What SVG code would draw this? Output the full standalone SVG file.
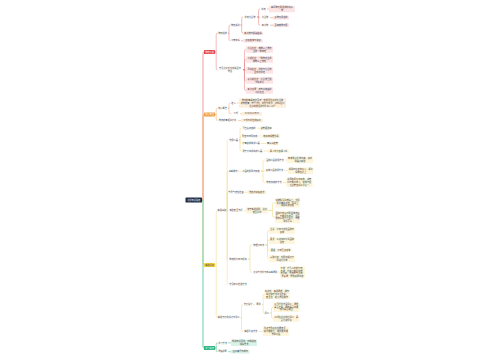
<svg xmlns="http://www.w3.org/2000/svg" width="500" height="360" viewBox="0 0 500 360">
<style>
.t{font-family:"Noto Sans CJK SC","Noto Sans",sans-serif;font-size:2.2px;fill:#444;text-anchor:middle}
.w{fill:#fff}
.c{fill:none;stroke-width:.5}
.k{stroke-width:.7}
.cr{stroke:#e57878}.co{stroke:#eea45c}.cy{stroke:#efd67a}.cg{stroke:#35b886}
.br{fill:#fde4e4}.bo{fill:#fdeedc}.by{fill:#fdf6dc}.bg{fill:#daf3e8}.bn{fill:none}
</style>
<rect width="500" height="360" fill="#fff"/>
<g id="connectors">
<path class="c k cr" d="M202,200H203V53.5Q203,52 204.5,52"/>
<path class="c k co" d="M202,200H203V116Q203,114.5 204.5,114.5"/>
<path class="c k cy" d="M202,200H203V263.5Q203,265 204.5,265"/>
<path class="c k cg" d="M202,200H203V346.5Q203,348 204.5,348"/>
<g class="c cr">
<path d="M215,52H216.2V34.7Q216.2,33.2 217.7,33.2"/>
<path d="M215,52H216.2V68.2Q216.2,69.7 217.7,69.7"/>
<path d="M228,33.2H229V26.5Q229,25 230.5,25"/>
<path d="M228,33.2H229V39.2Q229,40.7 230.5,40.7"/>
<path d="M240.5,25H241.7V18.5Q241.7,17 243.2,17"/>
<path d="M240.5,25H241.7V31.7Q241.7,33.2 243.2,33.2"/>
<path d="M257,17H258.5V10.5Q258.5,9 260,9"/>
<path d="M257,17H258.5L260,17.7"/>
<path d="M257,17H258.5V23.7Q258.5,25.2 260,25.2"/>
<path d="M267,9H269M270,17.7H273M270,25.2H273M241,40.7H243"/>
<path d="M243,69.7H244.5V51Q244.5,49.5 246,49.5"/>
<path d="M243,69.7H244.5V61Q244.5,59.5 246,59.5"/>
<path d="M243,69.7H244.5L246,70.5"/>
<path d="M243,69.7H244.5V79Q244.5,80.5 246,80.5"/>
<path d="M243,69.7H244.5V89Q244.5,90.5 246,90.5"/>
</g>
<g class="c co">
<path d="M215,114.5H216.2V109.7Q216.2,108.2 217.7,108.2"/>
<path d="M215,114.5H216.2V119Q216.2,120.5 217.7,120.5"/>
<path d="M238,120.5H241M237,103H239M240,113.7H242"/>
<path d="M228,108.2H229V104.5Q229,103 230.5,103"/>
<path d="M228,108.2H229V112.2Q229,113.7 230.5,113.7H231.5"/>
</g>
<g class="c cy">
<path d="M215,265H216.2V212.2Q216.2,210.7 217.7,210.7"/>
<path d="M215,265H216.2V316.2Q216.2,317.7 217.7,317.7"/>
<path d="M226.8,210.7H227.2V140.8Q227.2,140 228,140"/>
<path d="M226.8,210.7H227.2V172Q227.2,171.2 228,171.2"/>
<path d="M226.8,210.7H227.2V193.1Q227.2,192.3 228,192.3"/>
<path d="M226.8,210.7L228,210.4"/>
<path d="M226.8,210.7H227.2V258.2Q227.2,259 228,259"/>
<path d="M226.8,210.7H227.2V283.9Q227.2,284.7 228,284.7"/>
<path d="M239,140H240V129.3Q240,128.3 241,128.3"/>
<path d="M239,140H240V137Q240,136 241,136"/>
<path d="M239,140H240V142.5Q240,143.5 241,143.5"/>
<path d="M239,140H240V150Q240,151 241,151"/>
<path d="M257,128.3H260M258.5,136H261.5M261,143.5H266.5M263.5,151H268M238,171.2H241"/>
<path d="M261,171.2H263V161.5Q263,160 264.5,160H265"/>
<path d="M261,171.2H263L265,170.7"/>
<path d="M261,171.2H263V181Q263,182.5 264.5,182.5H265"/>
<path d="M285,160H287M284,170.7H288M283,182.5H286M244,192.3H247M244,210.4H246"/>
<path d="M268,210.4H272.5V204.3Q272.5,202.8 274,202.8H275"/>
<path d="M268,210.4H272.5V215.8Q272.5,217.3 274,217.3H275"/>
<path d="M248,259H250V246.5Q250,245 251.5,245H252"/>
<path d="M248,259H250V270.8Q250,272.3 251.5,272.3H252"/>
<path d="M265.5,245H267.5V232Q267.5,230.5 269,230.5"/>
<path d="M265.5,245H267.5V239.3Q267.5,240.8 269,240.8"/>
<path d="M265.5,245H267.5V248.7Q267.5,250.2 269,250.2"/>
<path d="M265.5,245H267.5V257.3Q267.5,258.8 269,258.8"/>
<path d="M278.5,272.3H280"/>
<path d="M240.5,317.7H241.5V306Q241.5,304.5 243,304.5"/>
<path d="M240.5,317.7H241.5V330Q241.5,331.5 243,331.5"/>
<path d="M253,304.5H255M258.5,331.5H263"/>
<path d="M262,304.5H263.2V295.3Q263.2,294.3 264.2,294.3"/>
<path d="M262,304.5H263.2V312Q263.2,313 264.2,313"/>
<path d="M269.5,313H271.5V308.8Q271.5,307.3 273,307.3"/>
<path d="M269.5,313H271.5V317Q271.5,318.5 273,318.5"/>
</g>
<g class="c cg">
<path d="M215,348H216.2V344.3Q216.2,342.8 217.7,342.8"/>
<path d="M215,348H216.2V350.2Q216.2,351.7 217.7,351.7"/>
<path d="M228,342.8H231M228,351.7H231"/>
</g>
</g>

<g id="root"><rect x="185.5" y="197.5" width="16.5" height="5" rx="0.6" fill="#1d2a47"/><text class="t w" x="193.75" y="200.78">化学知识总结</text></g>

<g id="n-red"><rect x="204" y="50" width="11" height="4" rx="0.6" fill="#e6454a"/><text class="t w" x="209.5" y="52.78">物质分类</text></g>
<g id="n-orange"><rect x="204" y="112.5" width="11" height="4" rx="0.6" fill="#f0a043"/><text class="t w" x="209.5" y="115.28">核心考点</text></g>
<g id="n-yellow"><rect x="204" y="263" width="11" height="4" rx="0.6" fill="#f4d03f"/><text class="t" x="209.5" y="265.78">实验探究</text></g>
<g id="n-green"><rect x="204" y="346" width="11" height="4" rx="0.6" fill="#25b27c"/><text class="t w" x="209.5" y="348.78">学习总结</text></g>

<g id="r1"><rect class="bn" x="217" y="31.4" width="11" height="3.6"/><text class="t" x="222.5" y="33.98">物质组成</text></g>
<g id="r2"><rect class="bn" x="217" y="66.6" width="26" height="6.2"/><text class="t" x="230" y="69.08">常见化学反应的类型与</text><text class="t" x="230" y="71.88">特征</text></g>
<g id="r1a"><rect class="bn" x="230" y="23.2" width="10.5" height="3.6"/><text class="t" x="235.25" y="25.78">物质类别</text></g>
<g id="r1b"><rect class="bn" x="230" y="38.9" width="11" height="3.6"/><text class="t" x="235.5" y="41.48">分散体系</text></g>
<g id="r1a1"><rect class="bn" x="243" y="15.2" width="14" height="3.6"/><text class="t" x="250" y="17.78">单质化合物</text></g>
<g id="r1a2"><rect class="br" x="243" y="31.4" width="20" height="3.6" rx="0.5"/><text class="t" x="253" y="33.98">氧化物与酸碱盐类</text></g>
<g id="r1a1-l1"><rect class="bn" x="260" y="7.2" width="7" height="3.6"/><text class="t" x="263.5" y="9.78">单质</text></g>
<g id="r1a1-b1"><rect class="br" x="269" y="5.7" width="26" height="6.6" rx="0.5"/><text class="t" x="282" y="8.38">由同种元素组成的纯净</text><text class="t" x="282" y="11.18">物</text></g>
<g id="r1a1-l2"><rect class="bn" x="260" y="15.9" width="10" height="3.6"/><text class="t" x="265" y="18.48">化合物</text></g>
<g id="r1a1-b2"><rect class="br" x="273" y="15.9" width="16" height="3.6" rx="0.5"/><text class="t" x="281" y="18.48">多种元素组成</text></g>
<g id="r1a1-l3"><rect class="bn" x="260" y="23.4" width="10" height="3.6"/><text class="t" x="265" y="25.98">氧化物</text></g>
<g id="r1a1-b3"><rect class="br" x="273" y="23.4" width="16" height="3.6" rx="0.5"/><text class="t" x="281" y="25.98">含氧两种元素</text></g>
<g id="r1b-b"><rect class="br" x="243" y="38.9" width="20" height="3.6" rx="0.5"/><text class="t" x="253" y="41.48">溶液胶体与浊液</text></g>
<g id="r2-1"><rect class="br" x="246" y="46.3" width="27" height="6.4" rx="0.5"/><text class="t" x="259.5" y="48.88">化合反应：两种以上物质</text><text class="t" x="259.5" y="51.68">生成一种物质</text></g>
<g id="r2-2"><rect class="br" x="246" y="56.3" width="27" height="6.4" rx="0.5"/><text class="t" x="259.5" y="58.88">分解反应：一种物质生成</text><text class="t" x="259.5" y="61.68">两种以上物质</text></g>
<g id="r2-3"><rect class="br" x="246" y="67.3" width="27" height="6.4" rx="0.5"/><text class="t" x="259.5" y="69.88">置换反应：单质与化合物</text><text class="t" x="259.5" y="72.68">生成新单质</text></g>
<g id="r2-4"><rect class="br" x="246" y="77.3" width="27" height="6.4" rx="0.5"/><text class="t" x="259.5" y="79.88">复分解反应：化合物互相</text><text class="t" x="259.5" y="82.68">交换成分</text></g>
<g id="r2-5"><rect class="br" x="246" y="87.3" width="27" height="6.4" rx="0.5"/><text class="t" x="259.5" y="89.88">氧化还原：有电子转移的</text><text class="t" x="259.5" y="92.68">化学反应</text></g>

<g id="o1"><rect class="bn" x="217" y="106.4" width="11" height="3.6"/><text class="t" x="222.5" y="108.98">核心概念</text></g>
<g id="o2"><rect class="bn" x="217" y="118.7" width="21" height="3.6"/><text class="t" x="227.5" y="121.28">物质的量相关计算</text></g>
<g id="o2-b"><rect class="bo" x="241" y="118.7" width="22" height="3.6" rx="0.5"/><text class="t" x="252" y="121.28">公式与单位的换算</text></g>
<g id="o1a"><rect class="bn" x="230" y="101.2" width="7" height="3.6"/><text class="t" x="233.5" y="103.78">定义</text></g>
<g id="o1a-b"><rect class="bo" x="239" y="98.2" width="47" height="9.6" rx="0.5"/><text class="t" x="262.5" y="100.98">物质的量是表示含有一定数目粒子的集合体</text><text class="t" x="262.5" y="103.78">的物理量，符号为n，单位为摩尔，1mol任何</text><text class="t" x="262.5" y="106.58">粒子的数目约为6.02×10²³</text></g>
<g id="o1b"><rect class="bn" x="231.5" y="111.9" width="8.5" height="3.6"/><text class="t" x="235.75" y="114.48">公式</text></g>
<g id="o1b-b"><rect class="bo" x="242" y="111.9" width="20" height="3.6" rx="0.5"/><text class="t" x="252" y="114.48">n=N/NA=m/M</text></g>

<g id="y1"><rect class="bn" x="217" y="208.9" width="9.8" height="3.6"/><text class="t" x="221.9" y="211.48">实验基础</text></g>
<g id="y2"><rect class="bn" x="217" y="315.9" width="23.5" height="3.6"/><text class="t" x="228.75" y="318.48">实验方案的设计与评价</text></g>
<g id="y1a"><rect class="bn" x="228" y="138.2" width="11" height="3.6"/><text class="t" x="233.5" y="140.78">常用仪器</text></g>
<g id="y1a-1"><text class="t" x="249" y="129.08">可直接加热的</text><rect class="by" x="260" y="126.5" width="12" height="3.6" rx="0.5"/><text class="t" x="266" y="129.08">试管蒸发皿</text></g>
<g id="y1a-2"><text class="t" x="249.75" y="136.78">需垫石棉网加热</text><rect class="by" x="261.5" y="134.2" width="19" height="3.6" rx="0.5"/><text class="t" x="271" y="136.78">烧杯烧瓶锥形瓶</text></g>
<g id="y1a-3"><text class="t" x="251" y="144.28">计量液体体积仪器</text><rect class="by" x="266.5" y="141.7" width="12" height="3.6" rx="0.5"/><text class="t" x="272.5" y="144.28">量筒滴定管</text></g>
<g id="y1a-4"><text class="t" x="252.25" y="151.78">用于分离提纯的仪器</text><rect class="by" x="268" y="149.2" width="21" height="3.6" rx="0.5"/><text class="t" x="278.5" y="151.78">漏斗与分液漏斗等</text></g>
<g id="y1b"><text class="t" x="233" y="171.98">基本操作</text><text class="t" x="251" y="171.98">药品的取用与加热</text></g>
<g id="y1b-1"><text class="t" x="275" y="160.78">固体药品取用方法</text><rect class="by" x="287" y="156.8" width="26" height="6.4" rx="0.5"/><text class="t" x="300" y="159.38">粉末用药匙或纸槽，块状</text><text class="t" x="300" y="162.18">用镊子夹取</text></g>
<g id="y1b-2"><text class="t" x="274.5" y="171.48">液体药品取用方法</text><rect class="by" x="288" y="167.5" width="25.5" height="6.4" rx="0.5"/><text class="t" x="300.75" y="170.08">倾倒时标签向手心，瓶塞</text><text class="t" x="300.75" y="172.88">倒放在桌上</text></g>
<g id="y1b-3"><text class="t" x="274" y="183.28">物质加热的方法</text><rect class="by" x="286" y="177.9" width="26.5" height="9.2" rx="0.5"/><text class="t" x="299.25" y="180.48">先预热再集中加热，试管</text><text class="t" x="299.25" y="183.28">口不能对着人，液体不超</text><text class="t" x="299.25" y="186.08">过试管容积三分之一</text></g>
<g id="y1c"><text class="t" x="236" y="193.08">装置气密性检查</text><rect class="by" x="247" y="190.5" width="19.5" height="3.6" rx="0.5"/><text class="t" x="256.75" y="193.08">微热法和液差法</text></g>
<g id="y1d"><text class="t" x="236" y="211.18">实验安全常识</text><rect class="by" x="246" y="207.2" width="22" height="6.4" rx="0.5"/><text class="t" x="257" y="209.78">遵守实验规则，注意</text><text class="t" x="257" y="212.58">安全防护</text></g>
<g id="y1d-1"><rect class="by" x="275" y="198.2" width="25" height="9.2" rx="0.5"/><text class="t" x="287.5" y="200.78">浓硫酸沾到皮肤上，立即</text><text class="t" x="287.5" y="203.58">用大量水冲洗，再涂上</text><text class="t" x="287.5" y="206.38">碳酸氢钠溶液</text></g>
<g id="y1d-2"><rect class="by" x="275" y="211.3" width="25" height="12" rx="0.5"/><text class="t" x="287.5" y="213.88">酒精灯着火时用湿抹布盖</text><text class="t" x="287.5" y="216.68">灭，不能用水浇灭；金属</text><text class="t" x="287.5" y="219.48">钠着火用沙土盖灭，不能</text><text class="t" x="287.5" y="222.28">用水灭火</text></g>
<g id="y1e"><text class="t" x="238" y="259.78">物质的分离与提纯</text></g>
<g id="y1e1"><text class="t" x="258.75" y="245.78">物理分离法</text></g>
<g id="y1e1-1"><rect class="by" x="269" y="227.3" width="26" height="6.4" rx="0.5"/><text class="t" x="282" y="229.88">过滤：分离不溶性固体与</text><text class="t" x="282" y="232.68">液体</text></g>
<g id="y1e1-2"><rect class="by" x="269" y="237.6" width="26" height="6.4" rx="0.5"/><text class="t" x="282" y="240.18">蒸发：从溶液中得到固体</text><text class="t" x="282" y="242.98">溶质</text></g>
<g id="y1e1-3"><rect class="by" x="269" y="248.4" width="23" height="3.6" rx="0.5"/><text class="t" x="280.5" y="250.98">蒸馏：分离互溶液体</text></g>
<g id="y1e1-4"><rect class="by" x="269" y="255.6" width="26" height="6.4" rx="0.5"/><text class="t" x="282" y="258.18">萃取分液：利用溶解度不</text><text class="t" x="282" y="260.98">同进行分离</text></g>
<g id="y1e2"><text class="t" x="265.25" y="273.08">化学方法除杂的基本原则</text><rect class="by" x="280" y="266.3" width="25" height="12" rx="0.5"/><text class="t" x="292.5" y="268.88">不增：不引入新的杂质；</text><text class="t" x="292.5" y="271.68">不减：不减少被提纯物；</text><text class="t" x="292.5" y="274.48">易分离：杂质易于分离；</text><text class="t" x="292.5" y="277.28">易复原：易恢复原状态</text></g>
<g id="y1f"><text class="t" x="238" y="285.48">常见离子检验方法</text></g>
<g id="y2a"><text class="t" x="248" y="305.28">方案设计</text><text class="t" x="258.5" y="305.28">原则</text></g>
<g id="y2a-1"><rect class="by" x="264" y="289.7" width="26" height="9.2" rx="0.5"/><text class="t" x="277" y="292.28">科学性：实验原理、操作</text><text class="t" x="277" y="295.08">程序和方法必须正确；</text><text class="t" x="277" y="297.88">安全性：避免危险操作</text></g>
<g id="y2a-2"><text class="t" x="266.75" y="313.78">评价</text></g>
<g id="y2a-2a"><rect class="by" x="273" y="302.7" width="26.5" height="9.2" rx="0.5"/><text class="t" x="286.25" y="304.88">从可行性方面评价：原理</text><text class="t" x="286.25" y="307.68">是否正确、操作是否简便</text><text class="t" x="286.25" y="310.48">现象是否明显</text></g>
<g id="y2a-2b"><rect class="by" x="273" y="315.3" width="26.5" height="6.4" rx="0.5"/><text class="t" x="286.25" y="317.88">从绿色化学角度评价：是</text><text class="t" x="286.25" y="320.68">否污染环境</text></g>
<g id="y2b"><text class="t" x="250.75" y="332.28">实验改进方法</text><rect class="by" x="263" y="326.9" width="25.7" height="9.2" rx="0.5"/><text class="t" x="275.85" y="329.48">改进装置使反应更安全、</text><text class="t" x="275.85" y="332.28">现象更明显，操作更简便</text><text class="t" x="275.85" y="335.08">节约药品</text></g>

<g id="g1"><text class="t" x="222.5" y="343.58">学习方法</text><rect class="bg" x="231" y="339.6" width="26" height="6.4" rx="0.5"/><text class="t" x="244" y="342.18">构建知识网络，归纳总结</text><text class="t" x="244" y="344.98">规律方法</text></g>
<g id="g2"><text class="t" x="222.5" y="352.48">易错提醒</text><rect class="bg" x="231" y="349.9" width="18.5" height="3.6" rx="0.5"/><text class="t" x="240.25" y="352.48">注意审题与细节</text></g>
</svg>
